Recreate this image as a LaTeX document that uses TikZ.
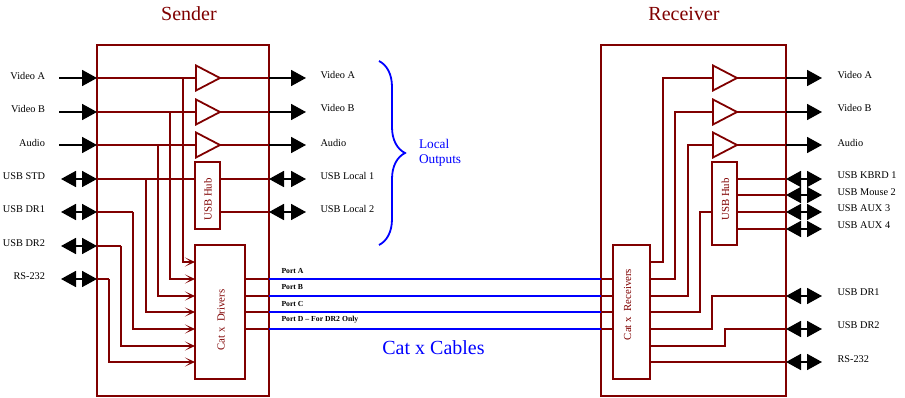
\documentclass[tikz,border=0pt]{standalone}
\usepackage{fontspec}
\setmainfont{Liberation Serif}
\usepackage{xcolor}
\usetikzlibrary{arrows.meta,shapes.geometric,decorations.pathreplacing}
\definecolor{maroon}{HTML}{800000}
\definecolor{link}{HTML}{0000FF}

\begin{document}
\begin{tikzpicture}[
  x=1pt,y=-1pt,
  every node/.style={align=center,inner sep=0pt,outer sep=0pt},
  unit/.style={draw=maroon,line width=1.8pt,minimum width=#1},
  part/.style={draw=maroon,fill=white,line width=1.8pt},
  amp/.style={draw=maroon,line width=1.8pt,shape=isosceles triangle,isosceles triangle stretches,
    minimum width=25pt,minimum height=24pt,anchor=west},
  wire/.style={maroon,line width=1.8pt},
  feed/.style={wire,-{Stealth[length=10pt,width=9pt,inset=6pt]}},
  cable/.style={link,line width=1.8pt},
  single/.style={black,line width=1.8pt,-{Triangle[length=15pt,width=16pt]}},
  double/.style={black,line width=1.8pt,{Triangle[length=15pt,width=16pt]}-{Triangle[length=15pt,width=16pt]}},
  signal/.style={font=\fontsize{10.3}{12}\selectfont},
  title/.style={maroon,font=\fontsize{20}{24}\selectfont},
  inside/.style={maroon,rotate=90,font=\fontsize{10.8}{13}\selectfont},
  port/.style={anchor=west,font=\bfseries\fontsize{7.7}{9}\selectfont}
]
\useasboundingbox (0,0) rectangle (905,398);

% main boxes
\node[title] (sendertitle) at (189,14) {Sender};
\node[title] (receivertitle) at (684,14) {Receiver};
\node[unit=172pt,minimum height=351pt] (sender) at (183,220.5) {};
\node[unit=185pt,minimum height=351pt] (receiver) at (693.5,220.5) {};
\node[part,minimum width=25pt,minimum height=67pt] (shub) at (207.5,195.5) {};
\node[part,minimum width=50pt,minimum height=134pt] (drivers) at (220,312) {};
\node[part,minimum width=25pt,minimum height=83pt] (rhub) at (724.5,203.5) {};
\node[part,minimum width=37pt,minimum height=134pt] (receivers) at (631.5,312) {};
\node[inside] (shubtext) at (208,199.5) {USB Hub};
\node[inside] (drivertext) at (221,320) {Cat x\ \ Drivers};
\node[inside] (rhubtext) at (725.5,199.5) {USB Hub};
\node[inside] (receivertext) at (627.7,304.5) {Cat x\ \ Receivers};
\node[amp] (samp1) at (196,78) {};
\node[amp] (samp2) at (196,112) {};
\node[amp] (samp3) at (196,145) {};
\node[amp] (ramp1) at (713,78) {};
\node[amp] (ramp2) at (713,112) {};
\node[amp] (ramp3) at (713,145) {};

% sender side points
\coordinate (in1) at (97,78);
\coordinate (in2) at (97,112);
\coordinate (in3) at (97,145);
\coordinate (in4) at (97,179);
\coordinate (in5) at (97,212);
\coordinate (in6) at (97,246);
\coordinate (in7) at (97,279);
\coordinate (src1) at (59,78);
\coordinate (src2) at (59,112);
\coordinate (src3) at (59,145);
\coordinate (src4) at (61,179);
\coordinate (src5) at (61,212);
\coordinate (src6) at (61,246);
\coordinate (src7) at (61,279);
\coordinate (tap1) at (183,78);
\coordinate (tap2) at (170,112);
\coordinate (tap3) at (158,145);
\coordinate (tap4) at (146,179);
\coordinate (tap5) at (133,212);
\coordinate (tap6) at (121,246);
\coordinate (tap7) at (109,279);
\coordinate (drv1) at (195,262);
\coordinate (drv2) at (195,279);
\coordinate (drv3) at (195,296);
\coordinate (drv4) at (195,312);
\coordinate (drv5) at (195,329);
\coordinate (drv6) at (195,346);
\coordinate (drv7) at (195,362);
\coordinate (hubout1) at (269,179);
\coordinate (hubout2) at (269,212);
\coordinate (local1) at (306,78);
\coordinate (local2) at (306,112);
\coordinate (local3) at (306,145);
\coordinate (local4) at (306,179);
\coordinate (local5) at (306,212);
\coordinate (edge1) at (269,78);
\coordinate (edge2) at (269,112);
\coordinate (edge3) at (269,145);

% cables
\coordinate (pa) at (245,279);
\coordinate (pb) at (245,296);
\coordinate (pc) at (245,312);
\coordinate (pd) at (245,329);
\coordinate (sa) at (269,279);
\coordinate (sb) at (269,296);
\coordinate (sc) at (269,312);
\coordinate (sd) at (269,329);
\coordinate (ra) at (601,279);
\coordinate (rb) at (601,296);
\coordinate (rc) at (601,312);
\coordinate (rd) at (601,329);
\coordinate (qa) at (613,279);
\coordinate (qb) at (613,296);
\coordinate (qc) at (613,312);
\coordinate (qd) at (613,329);

% receiver side points
\coordinate (out1) at (650,262);
\coordinate (out2) at (650,279);
\coordinate (out3) at (650,296);
\coordinate (out4) at (650,312);
\coordinate (out5) at (650,329);
\coordinate (out6) at (650,346);
\coordinate (out7) at (650,362);
\coordinate (hubin) at (712,212);
\coordinate (hub1) at (737,179);
\coordinate (hub2) at (737,195);
\coordinate (hub3) at (737,212);
\coordinate (hub4) at (737,229);
\coordinate (redge1) at (786,78);
\coordinate (redge2) at (786,112);
\coordinate (redge3) at (786,145);
\coordinate (redge4) at (786,179);
\coordinate (redge5) at (786,195);
\coordinate (redge6) at (786,212);
\coordinate (redge7) at (786,229);
\coordinate (redge8) at (786,296);
\coordinate (redge9) at (786,329);
\coordinate (redge10) at (786,362);
\coordinate (dest1) at (822,78);
\coordinate (dest2) at (822,112);
\coordinate (dest3) at (822,145);
\coordinate (dest4) at (822,179);
\coordinate (dest5) at (822,195);
\coordinate (dest6) at (822,212);
\coordinate (dest7) at (822,229);
\coordinate (dest8) at (822,296);
\coordinate (dest9) at (822,329);
\coordinate (dest10) at (822,362);

\draw[wire] (in1) -- (samp1.west);
\draw[wire] (in2) -- (samp2.west);
\draw[wire] (in3) -- (samp3.west);
\draw[wire] (in4) -- (in4 -| shub.west);
\draw[wire] (in5) -- (tap5);
\draw[wire] (in6) -- (tap6);
\draw[wire] (in7) -- (tap7);
\draw[feed] (tap1) |- (drv1);
\draw[feed] (tap2) |- (drv2);
\draw[feed] (tap3) |- (drv3);
\draw[feed] (tap4) |- (drv4);
\draw[feed] (tap5) |- (drv5);
\draw[feed] (tap6) |- (drv6);
\draw[feed] (tap7) |- (drv7);
\draw[wire] (samp1.apex) -- (edge1);
\draw[wire] (samp2.apex) -- (edge2);
\draw[wire] (samp3.apex) -- (edge3);
\draw[wire] (hubout1 -| shub.east) -- (hubout1);
\draw[wire] (hubout2 -| shub.east) -- (hubout2);

\draw[wire] (pa) -- (sa);
\draw[wire] (pb) -- (sb);
\draw[wire] (pc) -- (sc);
\draw[wire] (pd) -- (sd);
\draw[cable] (sa) -- (ra);
\draw[cable] (sb) -- (rb);
\draw[cable] (sc) -- (rc);
\draw[cable] (sd) -- (rd);
\draw[wire] (ra) -- (qa);
\draw[wire] (rb) -- (qb);
\draw[wire] (rc) -- (qc);
\draw[wire] (rd) -- (qd);

\draw[wire] (out1) -- (663,262) |- (ramp1.west);
\draw[wire] (out2) -- (675,279) |- (ramp2.west);
\draw[wire] (out3) -- (688,296) |- (ramp3.west);
\draw[wire] (out4) -- (700,312) |- (hubin);
\draw[wire] (out5) -- (712,329) |- (redge8);
\draw[wire] (out6) -- (725,346) |- (redge9);
\draw[wire] (out7) -- (redge10);
\draw[wire] (ramp1.apex) -- (redge1);
\draw[wire] (ramp2.apex) -- (redge2);
\draw[wire] (ramp3.apex) -- (redge3);
\draw[wire] (hub1) -- (redge4);
\draw[wire] (hub2) -- (redge5);
\draw[wire] (hub3) -- (redge6);
\draw[wire] (hub4) -- (redge7);

% connectors outside the boxes
\draw[single] (src1) -- (in1);
\draw[single] (src2) -- (in2);
\draw[single] (src3) -- (in3);
\draw[double] (src4) -- (in4);
\draw[double] (src5) -- (in5);
\draw[double] (src6) -- (in6);
\draw[double] (src7) -- (in7);
\draw[single] (edge1) -- (local1);
\draw[single] (edge2) -- (local2);
\draw[single] (edge3) -- (local3);
\draw[double] (hubout1) -- (local4);
\draw[double] (hubout2) -- (local5);
\draw[single] (redge1) -- (dest1);
\draw[single] (redge2) -- (dest2);
\draw[single] (redge3) -- (dest3);
\draw[double] (redge4) -- (dest4);
\draw[double] (redge5) -- (dest5);
\draw[double] (redge6) -- (dest6);
\draw[double] (redge7) -- (dest7);
\draw[double] (redge8) -- (dest8);
\draw[double] (redge9) -- (dest9);
\draw[double] (redge10) -- (dest10);

% labels
\node[signal,anchor=east] (lin1) at (45,76) {Video A};
\node[signal,anchor=east] (lin2) at (45,109) {Video B};
\node[signal,anchor=east] (lin3) at (45,143) {Audio};
\node[signal,anchor=east] (lin4) at (45,176) {USB STD};
\node[signal,anchor=east] (lin5) at (45,209) {USB DR1};
\node[signal,anchor=east] (lin6) at (45,243) {USB DR2};
\node[signal,anchor=east] (lin7) at (45,276) {RS-232};
\node[signal,anchor=west] (lloc1) at (320.5,75.5) {Video A};
\node[signal,anchor=west] (lloc2) at (320.5,108.5) {Video B};
\node[signal,anchor=west] (lloc3) at (320.5,142.5) {Audio};
\node[signal,anchor=west] (lloc4) at (320.5,175.5) {USB Local 1};
\node[signal,anchor=west] (lloc5) at (320.5,208.5) {USB Local 2};
\node[signal,anchor=west] (lout1) at (837.5,75) {Video A};
\node[signal,anchor=west] (lout2) at (837.5,108.5) {Video B};
\node[signal,anchor=west] (lout3) at (837.5,142.5) {Audio};
\node[signal,anchor=west] (lout4) at (837.5,175.5) {USB KBRD 1};
\node[signal,anchor=west] (lout5) at (837.5,192.5) {USB Mouse 2};
\node[signal,anchor=west] (lout6) at (837.5,208.5) {USB AUX 3};
\node[signal,anchor=west] (lout7) at (837.5,225.5) {USB AUX 4};
\node[signal,anchor=west] (lout8) at (837.5,292.5) {USB DR1};
\node[signal,anchor=west] (lout9) at (837.5,325.5) {USB DR2};
\node[signal,anchor=west] (lout10) at (837.5,359.5) {RS-232};
\node[port] (porta) at (281.5,270.5) {Port A};
\node[port] (portb) at (281.5,287) {Port B};
\node[port] (portc) at (281.5,303.5) {Port C};
\node[port] (portd) at (281.5,320) {Port D -- For DR2 Only};

% blue notes
\coordinate (bracetop) at (379,61);
\coordinate (bracebottom) at (379,245);
\draw[link,line width=1.8pt,decorate,decoration={brace,amplitude=26pt}] (bracetop) -- (bracebottom);
\node[link,anchor=west,align=left,font=\fontsize{13.3}{15.5}\selectfont] (localoutputs) at (419,153) {Local\\Outputs};
\node[link,font=\fontsize{20}{24}\selectfont] (cables) at (433.5,348) {Cat x Cables};
\end{tikzpicture}
\end{document}
